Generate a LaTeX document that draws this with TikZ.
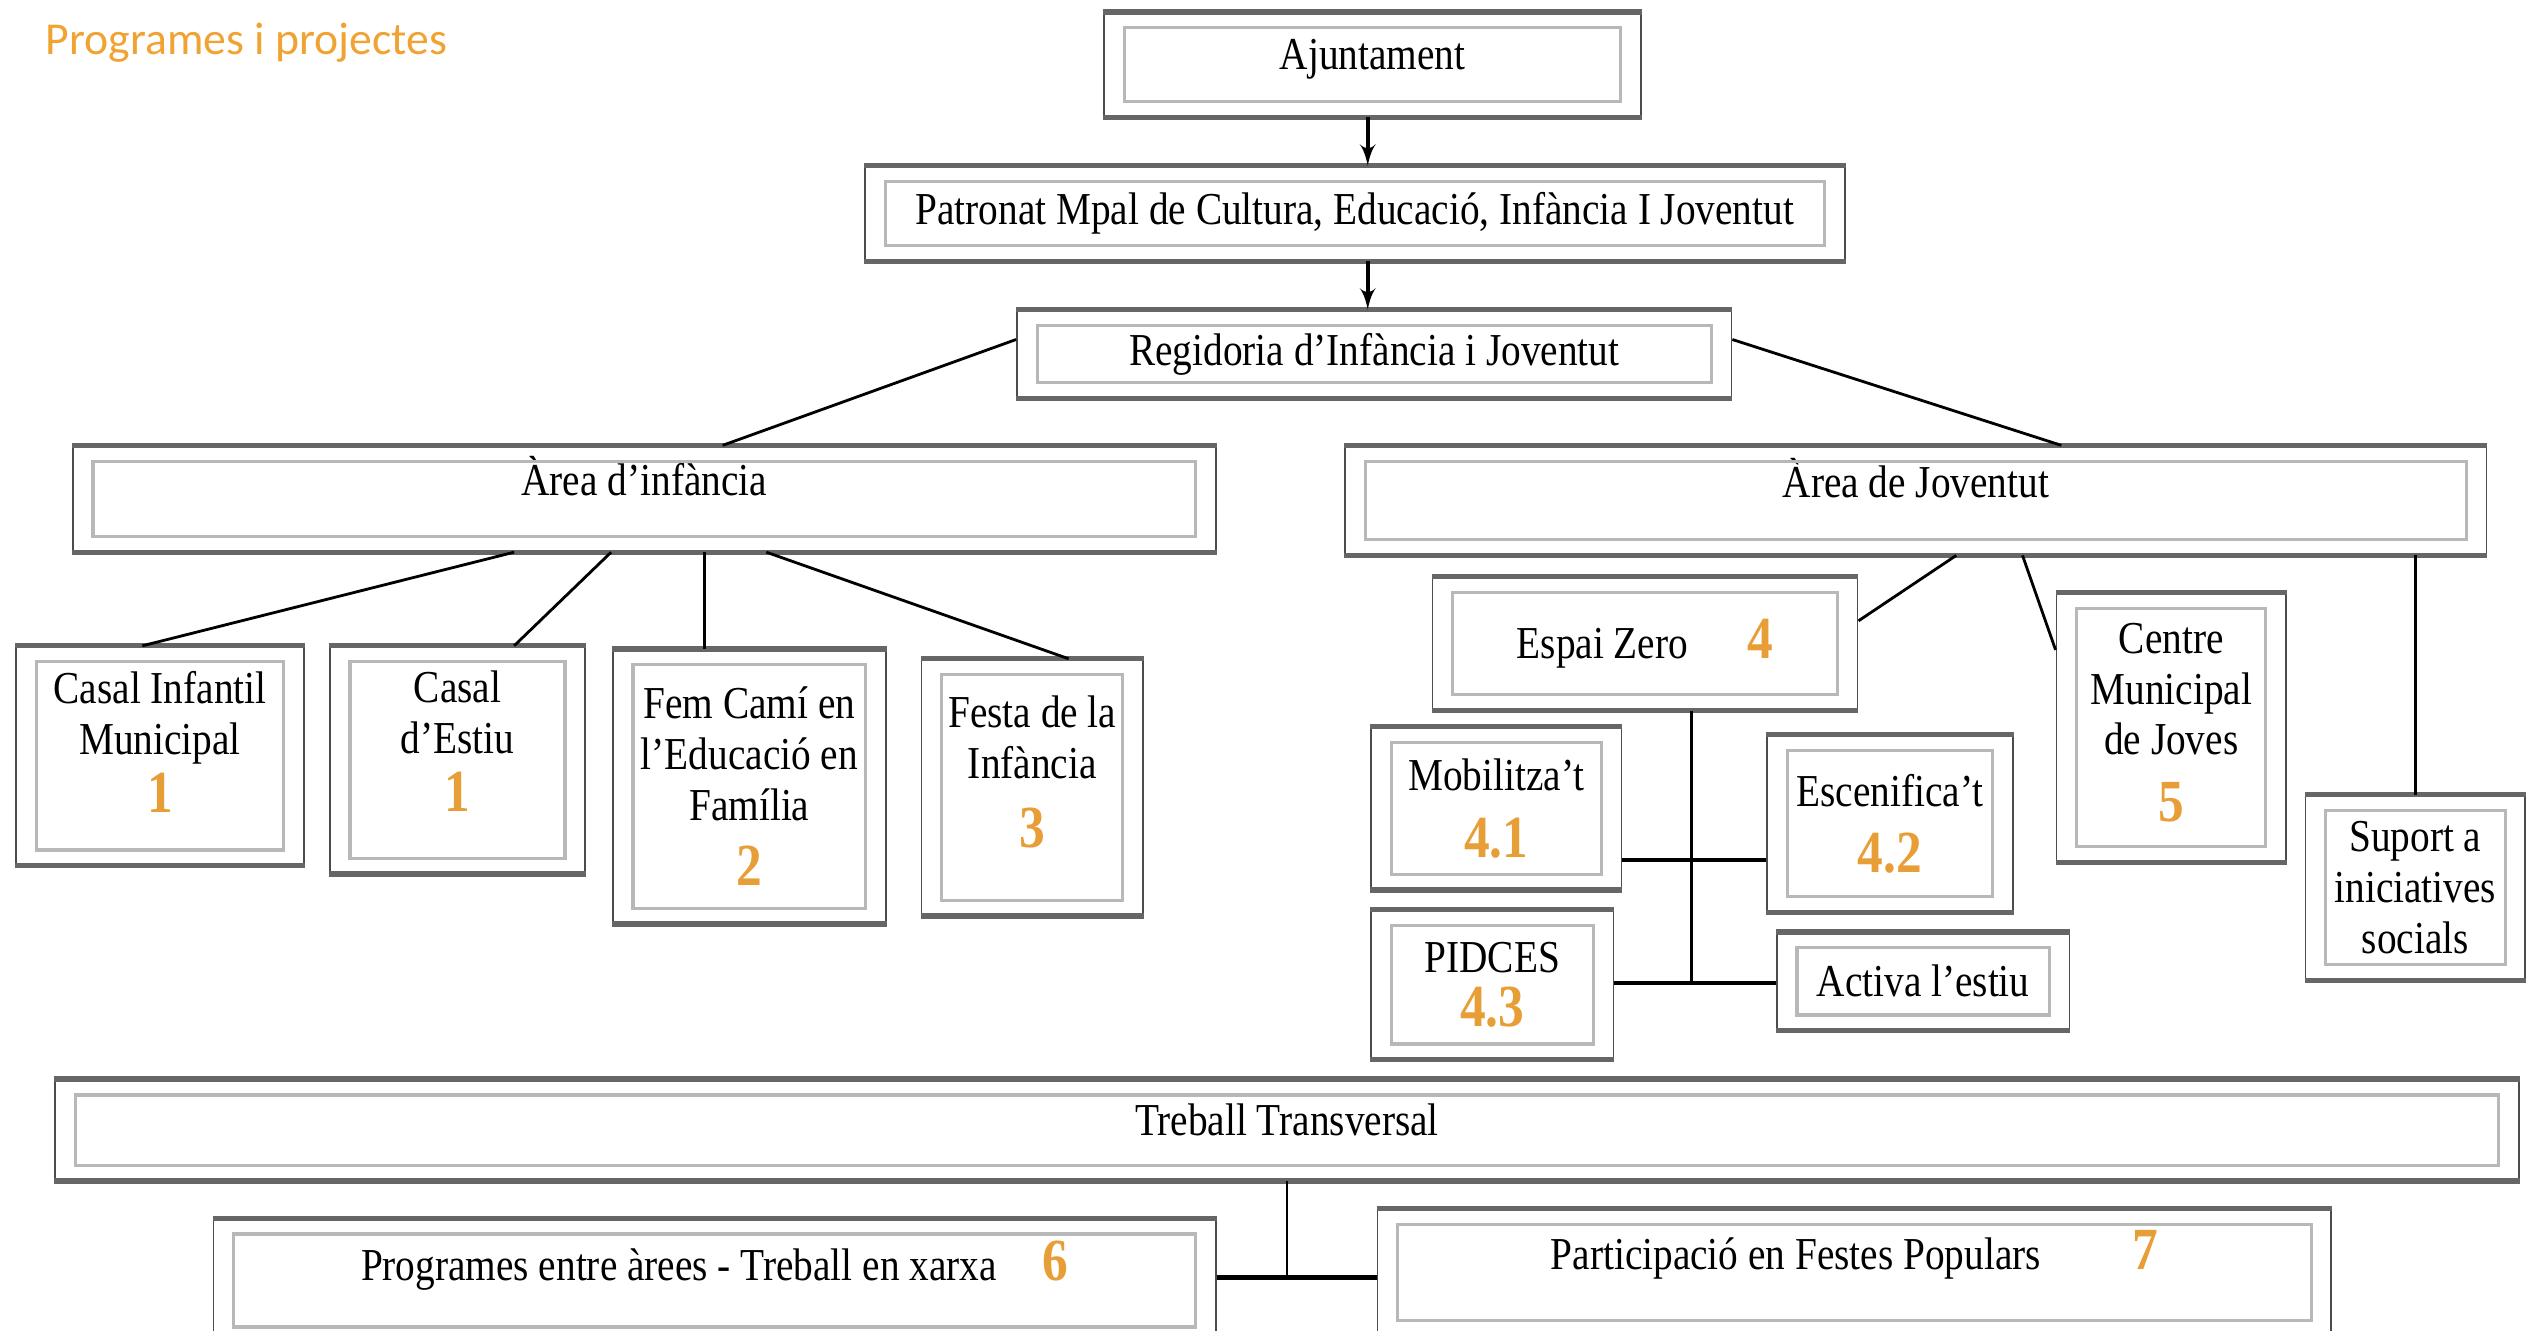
\documentclass[tikz,border=0pt]{standalone}
\usepackage{fontspec}
\setmainfont{Liberation Serif}
\newfontfamily\boxfamily{Liberation Serif}[FakeStretch=0.86]
\newfontfamily\titlefamily{Carlito}
\usetikzlibrary{arrows}

\definecolor{numorange}{RGB}{232,158,55}
\definecolor{titleorange}{RGB}{240,163,50}
\newcommand{\nb}[1]{{\fontsize{17}{17}\selectfont\bfseries\color{numorange}#1}}
\def\pxu{0.16167mm}

\begin{document}
\begin{tikzpicture}
    [
    x=\pxu, y=-\pxu,
    box/.style 2 args={draw=black!70, line width=0.5pt, fill=white, inner sep=2pt, align=center,
        minimum width=#1*\pxu, minimum height=#2*\pxu,
        font=\boxfamily\fontsize{13}{14.5}\selectfont},
    rim/.style={draw=black!60, line width=1.5pt},
    inframe/.style={draw=black!28, line width=0.9pt},
    link/.style={draw=black, line width=0.8pt},
    hlink/.style={draw=black, line width=1.3pt},
    arrow/.style={->, > = latex', line width=1.1pt},
    titlenode/.style={anchor=base west, inner sep=0pt, text=titleorange,
        font=\titlefamily\fontsize{13}{15}\selectfont}
    ]
\useasboundingbox (0,0) rectangle (1568,823);
\clip (0,0) rectangle (1568,823);

\node[titlenode] (title) at (28,34) {Programes i projectes};

% top of the chart
\node[box={332}{64}, text depth=6pt] (ajunt) at (849,40) {Ajuntament};
\node[box={606}{58}] (patr) at (838,132) {Patronat Mpal de Cultura, Educació, Infància I Joventut};
\node[box={442}{54}] (regi) at (850,219) {Regidoria d’Infància i Joventut};
\node[box={707}{65}, text depth=13pt] (inf) at (398.5,308.5) {Àrea d’infància};
\node[box={706}{67}, text depth=13pt] (juv) at (1185,309.5) {Àrea de Joventut};

% area d'infancia
\node[box={178}{135}, text depth=8pt] (cim) at (99,467.5) {Casal Infantil\\Municipal\\[2pt]\nb{1}};
\node[box={158}{140}, text depth=10.5pt] (cde) at (283,470) {Casal\\d’Estiu\\[2pt]\nb{1}};
\node[box={169}{169}] (fem) at (463.5,486.5) {Fem Camí en\\l’Educació en\\Família\\[4pt]\nb{2}};
\node[box={137}{158}, text depth=9pt] (fes) at (638.5,487) {Festa de la\\Infància\\[5pt]\nb{3}};

% area de joventut
\node[box={263}{82}] (zero) at (1017.5,398) {Espai Zero\hspace{1.3em}\nb{4}};
\node[box={142}{166}, text depth=3pt] (cmj) at (1343,450) {Centre\\Municipal\\de Joves\\[4.5pt]\nb{5}};
\node[box={136}{114}] (sup) at (1494,549) {Suport a\\iniciatives\\socials};
\node[box={155}{100}] (mob) at (925.5,500) {Mobilitza’t\\[4.5pt]\nb{4.1}};
\node[box={152}{109}] (esc) at (1169,509.5) {Escenifica’t\\[4.5pt]\nb{4.2}};
\node[box={150}{92}] (pid) at (923,609) {PIDCES\\[1pt]\nb{4.3}};
\node[box={181}{60}] (act) at (1189.5,607) {Activa l’estiu};

% treball transversal
\node[box={1524}{62}, text depth=6pt] (trans) at (796,699) {Treball Transversal};
\node[box={620}{76}, text depth=11pt] (prog) at (442,792) {Programes entre àrees - Treball en xarxa\hspace{1em}\nb{6}};
\node[box={590}{78}, text depth=13pt] (part) at (1147,787) {Participació en Festes Populars\hspace{2em}\nb{7}};

\foreach \n in {ajunt,patr,regi,inf,juv,cim,cde,fem,fes,zero,cmj,sup,mob,esc,pid,act,trans,prog,part}{
    \draw[inframe] ([xshift=6pt,yshift=-4.5pt]\n.north west) rectangle ([xshift=-6pt,yshift=4.5pt]\n.south east);
    \draw[rim] (\n.north west) -- (\n.north east) (\n.south west) -- (\n.south east);
}

\draw[arrow] (ajunt.south -| 846,0) -- (patr.north -| 846,0);
\draw[arrow] (patr.south -| 846,0) -- (regi.north -| 846,0);
\draw[link] (regi.west |- 0,210) -- (inf.north -| 447,0);
\draw[link] (regi.east |- 0,210) -- (juv.north -| 1275,0);

\draw[link] (inf.south -| 318,0) -- (cim.north -| 88,0);
\draw[link] (inf.south -| 378,0) -- (cde.north -| 318,0);
\draw[link] (inf.south -| 436,0) -- (fem.north -| 436,0);
\draw[link] (inf.south -| 474,0) -- (fes.north -| 661,0);

\draw[link] (juv.south -| 1210,0) -- (zero.east |- 0,384);
\draw[link] (juv.south -| 1251,0) -- (cmj.west |- 0,402);
\draw[link] (juv.south -| 1494,0) -- (sup.north);
\coordinate (j41) at (1046,532);
\coordinate (j43) at (1046,608);
\draw[link] (zero.south -| j43) -- (j43);
\draw[hlink] (mob.east |- j41) -- (esc.west |- j41);
\draw[hlink] (pid.east |- j43) -- (act.west |- j43);

\coordinate (jt) at (796,790);
\draw[link] (trans.south -| jt) -- (jt);
\draw[hlink] (prog.east |- jt) -- (part.west |- jt);
\end{tikzpicture}
\end{document}
